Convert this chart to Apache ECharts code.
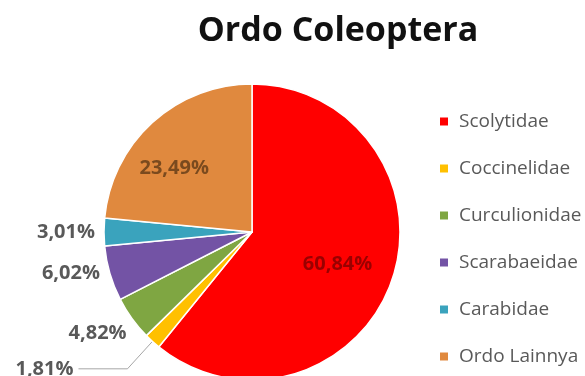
<!DOCTYPE html>
<html>
<head>
<meta charset="utf-8">
<script src="https://cdn.jsdelivr.net/npm/echarts@6/dist/echarts.min.js"></script>
<style>
html,body{margin:0;padding:0;background:#fff;}
#chart{width:585px;height:376px;}
</style>
</head>
<body>
<div id="chart"></div>
<script>
const categories = ['Scolytidae', 'Coccinelidae', 'Curculionidae', 'Scarabaeidae', 'Carabidae', 'Ordo Lainnya'];
const values = [60.84, 1.81, 4.82, 6.02, 3.01, 23.49];
const colors = ['#FF0000', '#FFC000', '#7FA642', '#7353A5', '#3AA3BD', '#E0893E'];
const titleText = 'Ordo Coleoptera';

// per-slice label styling (style only)
const labelStyles = [
  { position: 'inside', color: '#9a0000', line: false, len: 10, len2: 10, dx: 13, dy: 7 },
  { position: 'outside', color: '#595959', line: true, len: 37, len2: 49, dx: 0, dy: 0 },
  { position: 'outside', color: '#595959', line: false, len: 25, len2: 0, dx: 20, dy: 0 },
  { position: 'outside', color: '#595959', line: false, len: 1, len2: 4, dx: 0, dy: 0 },
  { position: 'outside', color: '#595959', line: false, len: 2, len2: 2, dx: 0, dy: 0 },
  { position: 'inside', color: '#7a4a1e', line: false, len: 10, len2: 10, dx: -26, dy: -7 }
];

const chart = echarts.init(document.getElementById('chart'), null, { renderer: 'canvas' });

const data = categories.map((name, i) => ({
  name: name,
  value: values[i],
  itemStyle: { color: colors[i] },
  label: { position: labelStyles[i].position, color: labelStyles[i].color },
  labelLine: {
    show: labelStyles[i].line,
    length: labelStyles[i].len,
    length2: labelStyles[i].len2,
    lineStyle: { color: '#a6a6a6', width: 1 }
  }
}));

chart.setOption({
  backgroundColor: '#ffffff',
  animation: false,
  title: {
    text: titleText,
    left: 333,
    top: 9,
    textAlign: 'center',
    textStyle: { fontFamily: 'Open Sans', fontWeight: 'bold', fontSize: 34, color: '#111111' }
  },
  legend: {
    orient: 'vertical',
    left: 433,
    top: 107,
    itemWidth: 10,
    itemHeight: 10,
    itemGap: 28,
    icon: 'rect',
    data: categories,
    textStyle: { fontFamily: 'Open Sans', fontSize: 19, color: '#595959', padding: [0, 0, 0, 5] }
  },
  series: [{
    type: 'pie',
    center: [252, 232],
    radius: 148,
    startAngle: 90,
    clockwise: true,
    avoidLabelOverlap: false,
    itemStyle: { borderColor: '#ffffff', borderWidth: 1.5 },
    label: {
      fontFamily: 'Open Sans',
      fontSize: 20,
      fontWeight: 'bold',
      distanceToLabelLine: 5,
      formatter: p => p.value.toFixed(2).replace('.', ',') + '%'
    },
    labelLayout: function (p) {
      const s = labelStyles[p.dataIndex];
      return { dx: s.dx, dy: s.dy };
    },
    data: data
  }]
});
</script>
</body>
</html>
